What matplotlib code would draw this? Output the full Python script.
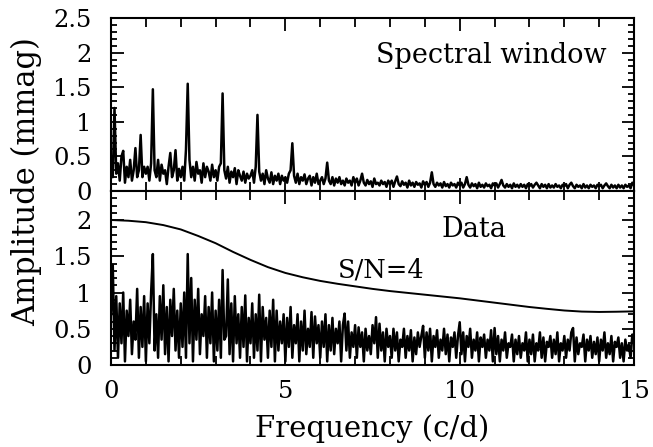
import numpy as np
import matplotlib
matplotlib.use("Agg")
import matplotlib.pyplot as plt
from matplotlib.ticker import MultipleLocator, FuncFormatter

# ---------------- data ----------------
freq_step = 0.05  # c/d

window_amp = [
    0.30,0.20,1.20,0.25,0.40,0.15,0.50,0.58,0.12,0.35,0.20,0.45,0.15,0.30,0.62,0.20,0.30,0.81,0.20,0.35,
    0.25,0.35,0.15,0.40,1.47,0.30,0.20,0.45,0.15,0.38,0.25,0.30,0.10,0.35,0.55,0.20,0.30,0.59,0.15,0.32,
    0.20,0.35,0.15,0.60,1.55,0.45,0.20,0.35,0.15,0.42,0.25,0.30,0.12,0.40,0.20,0.35,0.28,0.15,0.38,0.20,
    0.30,0.15,0.35,0.40,1.41,0.30,0.18,0.35,0.12,0.28,0.20,0.33,0.10,0.30,0.22,0.15,0.28,0.12,0.25,0.18,
    0.22,0.30,0.12,0.35,1.10,0.28,0.15,0.25,0.10,0.30,0.18,0.12,0.27,0.10,0.22,0.15,0.25,0.10,0.22,0.15,
    0.20,0.12,0.25,0.30,0.69,0.22,0.12,0.25,0.10,0.20,0.15,0.24,0.10,0.18,0.22,0.08,0.20,0.12,0.25,0.10,
    0.15,0.20,0.10,0.18,0.41,0.15,0.10,0.20,0.08,0.18,0.12,0.20,0.10,0.15,0.08,0.18,0.12,0.15,0.08,0.20,
    0.12,0.18,0.08,0.15,0.25,0.12,0.08,0.16,0.10,0.14,0.06,0.18,0.10,0.12,0.08,0.15,0.10,0.13,0.06,0.15,
    0.10,0.15,0.06,0.14,0.21,0.10,0.07,0.14,0.09,0.12,0.05,0.15,0.08,0.12,0.06,0.13,0.09,0.11,0.05,0.14,
    0.09,0.13,0.06,0.12,0.27,0.10,0.06,0.12,0.08,0.11,0.05,0.13,0.07,0.10,0.05,0.12,0.08,0.10,0.05,0.12,
    0.08,0.12,0.05,0.10,0.20,0.09,0.05,0.11,0.07,0.10,0.04,0.12,0.06,0.09,0.05,0.11,0.07,0.09,0.04,0.11,
    0.08,0.11,0.05,0.10,0.16,0.08,0.05,0.10,0.06,0.09,0.04,0.11,0.06,0.09,0.05,0.10,0.06,0.09,0.04,0.10,
    0.07,0.10,0.05,0.09,0.12,0.08,0.04,0.10,0.06,0.09,0.04,0.10,0.05,0.08,0.05,0.10,0.06,0.08,0.04,0.09,
    0.07,0.10,0.04,0.09,0.12,0.07,0.04,0.09,0.06,0.08,0.04,0.10,0.05,0.08,0.04,0.09,0.06,0.08,0.04,0.09,
    0.07,0.09,0.04,0.08,0.11,0.07,0.04,0.09,0.05,0.08,0.04,0.09,0.05,0.08,0.04,0.09,0.06,0.08,0.04,0.12,
    0.08,
]

data_amp = [
    0.70,1.38,0.20,0.95,0.10,0.85,0.30,1.00,0.05,0.75,0.40,0.90,0.15,0.60,0.35,1.05,0.10,0.80,0.25,0.95,
    0.05,0.85,0.30,1.00,1.53,0.20,0.70,0.10,0.95,0.35,1.10,0.15,0.80,0.05,0.90,0.40,1.05,0.20,0.75,0.10,
    0.85,0.25,1.00,0.10,1.53,0.30,1.20,0.05,0.90,0.35,1.05,0.15,0.70,0.40,0.95,0.10,0.80,0.30,1.00,0.05,
    0.75,0.20,0.90,0.10,1.31,0.35,0.40,1.18,0.15,0.85,0.05,0.95,0.30,0.70,0.10,0.80,0.25,0.96,0.05,0.65,
    0.30,0.85,0.10,0.70,0.20,0.97,0.05,0.80,0.35,0.65,0.10,0.75,0.25,0.90,0.05,0.75,0.20,0.60,0.30,0.70,
    0.05,0.65,0.25,0.80,0.10,0.55,0.30,0.70,0.05,0.60,0.20,0.75,0.15,0.50,0.25,0.73,0.10,0.67,0.30,0.55,
    0.10,0.60,0.25,0.70,0.05,0.55,0.20,0.65,0.15,0.50,0.30,0.60,0.05,0.55,0.71,0.20,0.60,0.10,0.45,0.25,
    0.55,0.10,0.52,0.25,0.45,0.05,0.50,0.20,0.40,0.15,0.55,0.30,0.66,0.10,0.57,0.20,0.45,0.05,0.50,0.25,
    0.40,0.10,0.50,0.20,0.45,0.05,0.35,0.25,0.50,0.10,0.40,0.20,0.48,0.05,0.38,0.15,0.45,0.25,0.40,0.54,
    0.10,0.45,0.20,0.50,0.05,0.40,0.25,0.48,0.10,0.35,0.20,0.50,0.15,0.42,0.05,0.38,0.25,0.45,0.10,0.40,
    0.59,0.15,0.45,0.05,0.40,0.25,0.50,0.10,0.35,0.20,0.45,0.05,0.38,0.25,0.42,0.10,0.35,0.20,0.48,0.05,
    0.51,0.15,0.40,0.05,0.35,0.20,0.45,0.10,0.30,0.25,0.42,0.05,0.35,0.15,0.40,0.10,0.30,0.20,0.45,0.05,
    0.35,0.15,0.42,0.05,0.30,0.20,0.45,0.10,0.38,0.05,0.32,0.25,0.40,0.10,0.35,0.15,0.45,0.05,0.30,0.20,
    0.40,0.10,0.35,0.20,0.45,0.51,0.05,0.38,0.15,0.30,0.25,0.42,0.05,0.35,0.20,0.40,0.10,0.32,0.15,0.38,
    0.05,0.35,0.20,0.45,0.10,0.30,0.15,0.40,0.05,0.32,0.25,0.38,0.10,0.30,0.05,0.35,0.20,0.28,0.10,0.42,
    0.30,
]

sn_freq = [0, 0.5, 1, 1.5, 2, 2.5, 3, 3.5, 4, 4.5, 5, 5.5, 6, 6.5, 7, 7.5, 8, 8.5,
           9, 9.5, 10, 10.5, 11, 11.5, 12, 12.5, 13, 13.5, 14, 14.5, 15]
sn_amp = [2.00, 1.99, 1.97, 1.93, 1.87, 1.78, 1.68, 1.56, 1.45, 1.35, 1.27, 1.21, 1.16,
          1.12, 1.085, 1.05, 1.02, 0.995, 0.97, 0.945, 0.92, 0.89, 0.86, 0.83, 0.80,
          0.775, 0.752, 0.737, 0.732, 0.735, 0.74]

x_ticks = [0, 5, 10, 15]
top_yticks = [0, 0.5, 1, 1.5, 2, 2.5]
bot_yticks = [0, 0.5, 1, 1.5, 2]

# ---------------- figure ----------------
plt.rcParams['font.family'] = ['DejaVu Serif']
fig = plt.figure(figsize=(6.53, 4.47), dpi=100)
ax1 = fig.add_axes([0.170, 0.5727, 0.801, 0.3870])
ax2 = fig.add_axes([0.170, 0.1834, 0.801, 0.3893], sharex=ax1)

fw = np.arange(len(window_amp)) * freq_step
fd = np.arange(len(data_amp)) * freq_step

ax1.plot(fw, window_amp, color='black', lw=1.8)
ax2.plot(fd, data_amp, color='black', lw=1.8)
ax2.plot(sn_freq, sn_amp, color='black', lw=1.4)

fmt = FuncFormatter(lambda v, p: ('%g' % v))
for ax, yt, ylim in ((ax1, top_yticks, (0, 2.5)), (ax2, bot_yticks, (0, 2.4))):
    ax.set_xlim(0, 15)
    ax.set_ylim(*ylim)
    ax.set_yticks(yt)
    ax.yaxis.set_major_formatter(fmt)
    ax.yaxis.set_minor_locator(MultipleLocator(0.1))
    ax.xaxis.set_major_locator(MultipleLocator(5))
    ax.xaxis.set_minor_locator(MultipleLocator(1))
    ax.tick_params(which='both', direction='in', top=True, right=True,
                   width=1.3, labelsize=17.5)
    ax.tick_params(axis='x', which='major', length=9.5, pad=11)
    ax.tick_params(axis='x', which='minor', length=6.5)
    ax.tick_params(axis='y', which='major', length=9, pad=14)
    ax.tick_params(axis='y', which='minor', length=4.5)
    for s in ax.spines.values():
        s.set_linewidth(1.5)

ax1.tick_params(labelbottom=False)
ax2.set_xticks(x_ticks)
ax2.xaxis.set_major_formatter(fmt)
ax2.set_xlabel('Frequency (c/d)', fontsize=21, labelpad=8)

ax1.text(14.22, 1.85, 'Spectral window', fontsize=19.5, ha='right', va='baseline')
ax2.text(10.41, 1.76, 'Data', fontsize=19.5, ha='center', va='baseline')
ax2.text(6.51, 1.21, 'S/N=4', fontsize=18.5, ha='left', va='baseline')

fig.text(0.040, 0.593, 'Amplitude (mmag)', rotation=90, fontsize=22,
         ha='center', va='center')

fig.savefig('out.png', dpi=100)
